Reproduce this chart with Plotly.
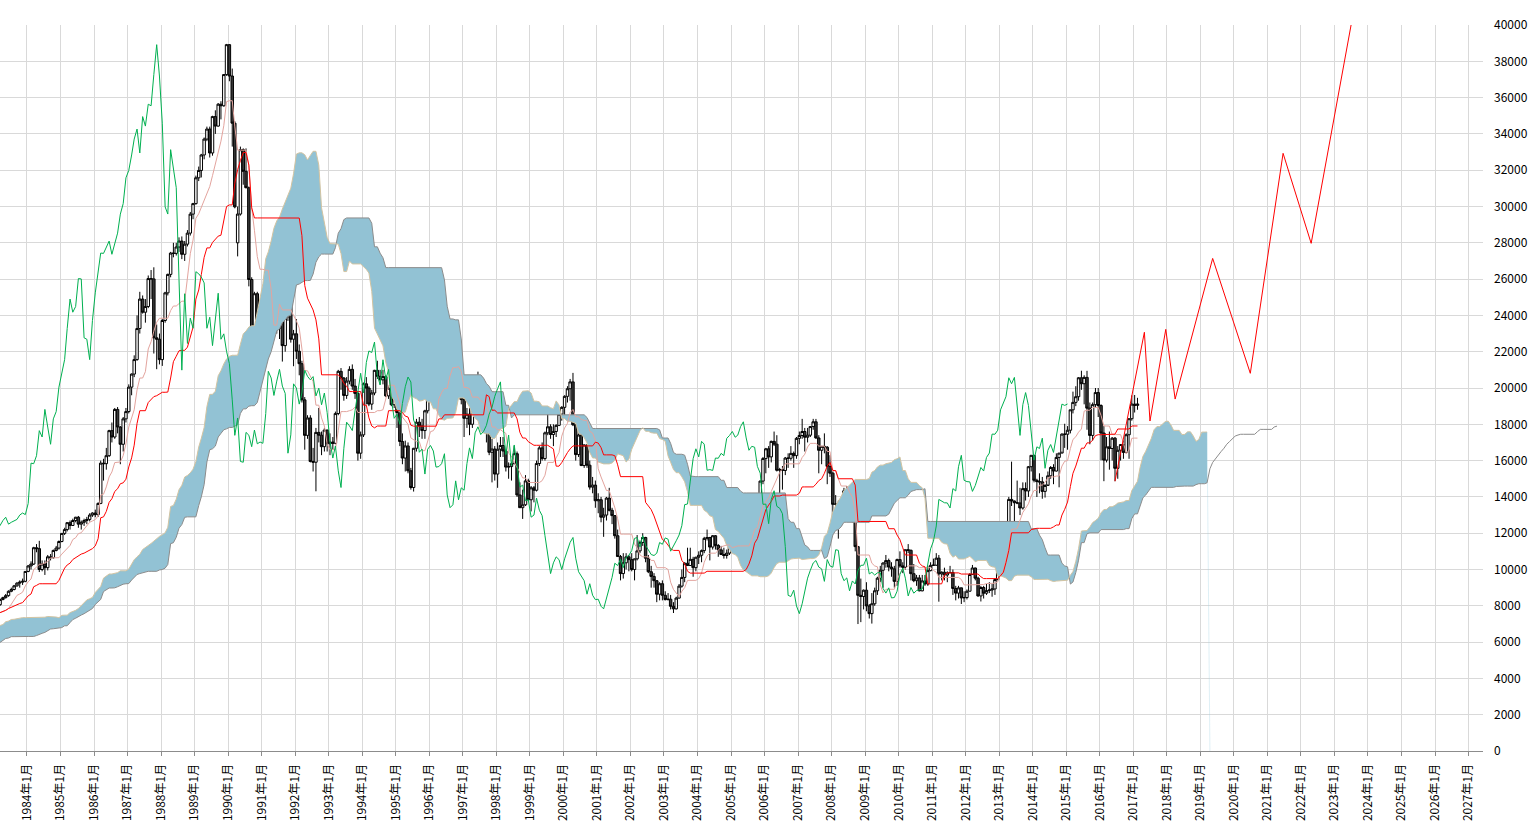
import pandas as pd
import plotly.graph_objects as go

SHIFT = 25  # ichimoku displacement (26 incl. current bar)

# ---- monthly highs / lows before the visible window (Oct 1976 - Dec 1982), used for the indicators
pre_start = "1976-10"
pre_high = [
    4600, 4700, 4990,
    5100, 5150, 5220, 5200, 5150, 5180, 5200, 5250, 5290, 5250, 5080, 4900,
    5050, 5100, 5300, 5500, 5560, 5600, 5680, 5650, 5750, 5900, 5900, 6020,
    6250, 6250, 6200, 6200, 6150, 6250, 6300, 6400, 6550, 6550, 6480, 6600,
    6750, 6720, 6600, 6600, 6750, 6900, 7000, 7080, 7150, 7300, 7350, 7250,
    7350, 7500, 7550, 7800, 7850, 8000, 8000, 8020, 7750, 7650, 7700, 7750,
    7900, 7800, 7500, 7400, 7600, 7550, 7400, 7250, 7150, 7350, 7650, 8100,
]
pre_low = [
    4420, 4450, 4600,
    4900, 4980, 5000, 4980, 4970, 5020, 5050, 5100, 5150, 5000, 4600, 4700,
    4850, 4950, 5050, 5250, 5420, 5450, 5520, 5480, 5500, 5700, 5680, 5750,
    5980, 6050, 6050, 6000, 5980, 6030, 6150, 6200, 6330, 6350, 6250, 6320,
    6520, 6500, 6380, 6400, 6520, 6680, 6800, 6900, 6950, 7020, 7100, 7000,
    7100, 7250, 7350, 7450, 7600, 7700, 7700, 7650, 7100, 7250, 7450, 7500,
    7600, 7400, 7050, 7100, 7300, 7250, 7150, 6900, 6880, 6850, 7200, 7550,
]

# ---- monthly candles, Jan 1983 - Feb 2017
start = "1983-01"
open_ = [
    8016, 7990, 8060, 8350, 8450, 8560, 8800, 8900, 9100, 9250, 9300, 9350,
    9893, 10196, 10300, 11200, 11150, 10000, 10300, 10100, 10700, 10650, 11050, 11180,
    11542, 11990, 12200, 12580, 12426, 12700, 12880, 12500, 12600, 12700, 12760, 13000,
    13113, 13024, 13640, 15860, 15830, 16270, 17650, 17300, 18820, 17850, 16900, 18300,
    18701, 20048, 20767, 21566, 23275, 24900, 24176, 24488, 26029, 26010, 22765, 22686,
    21564, 23719, 25242, 26260, 27434, 27417, 27769, 28095, 27367, 27924, 28532, 29579,
    30159, 31581, 31986, 32839, 33714, 34267, 32949, 34954, 34431, 35637, 35549, 37269,
    38916, 37189, 34592, 28000, 29584, 33131, 31940, 31036, 25978, 20984, 25194, 22455,
    23849, 23293, 26409, 26292, 26111, 25790, 23291, 23900, 22335, 23916, 25222, 22687,
    22984, 22023, 21339, 19346, 17391, 18348, 15952, 15910, 17555, 17399, 16767, 17684,
    16925, 17023, 16953, 18591, 20919, 20552, 19590, 20380, 21027, 20106, 19703, 16408,
    17417, 20229, 19997, 19112, 19725, 20974, 20644, 20449, 20629, 19564, 19990, 19076,
    19723, 18650, 17053, 16140, 16807, 15437, 14517, 16678, 18117, 17913, 17655, 18744,
    19868, 20813, 19734, 21407, 22041, 21956, 22531, 20693, 20167, 21556, 20467, 21020,
    19361, 18330, 18557, 18003, 19151, 20069, 20605, 20331, 18229, 17888, 16459, 16636,
    15259, 16628, 16832, 16527, 15641, 15671, 15830, 16379, 14108, 13406, 13565, 14883,
    13842, 14500, 14368, 15837, 16701, 16112, 17530, 17862, 17437, 17605, 17942, 18558,
    18934, 19540, 19960, 20337, 17974, 16332, 17411, 15727, 16861, 15747, 14539, 14649,
    13786, 13844, 12884, 12999, 13934, 13262, 12969, 11861, 10714, 9775, 10367, 10697,
    10543, 9998, 10588, 11025, 11493, 11764, 10622, 9877, 9619, 9383, 8640, 9216,
    8579, 8340, 8363, 7973, 7831, 8425, 9083, 9563, 10344, 10219, 10560, 10101,
    10677, 10784, 11041, 11715, 11762, 11236, 11859, 11326, 11082, 10824, 10771, 10899,
    11489, 11388, 11741, 11669, 11009, 11277, 11584, 11900, 12414, 13574, 13607, 14872,
    16111, 16650, 16205, 17060, 16906, 15467, 15505, 15457, 16141, 16128, 16399, 16274,
    17226, 17383, 17604, 17288, 17400, 17875, 18138, 17249, 16569, 16786, 16737, 15680,
    15308, 13592, 13603, 12526, 13850, 14339, 13481, 13377, 13073, 11260, 8577, 8512,
    8860, 7994, 7568, 8110, 8828, 9523, 9958, 10357, 10493, 10133, 10035, 9346,
    10546, 10198, 10126, 11090, 11057, 9769, 9383, 9537, 8824, 9369, 9202, 9937,
    10229, 10237, 10624, 9755, 9850, 9694, 9816, 9833, 8955, 8700, 8988, 8435,
    8455, 8803, 9723, 10083, 9521, 8543, 9007, 8695, 8840, 8870, 8928, 9446,
    10395, 11139, 11559, 12398, 13861, 13775, 13677, 13668, 13389, 14456, 14328, 15662,
    16291, 14915, 14841, 14828, 14304, 14632, 15162, 15621, 15425, 16174, 16414, 17460,
    17451, 17674, 18798, 19207, 19520, 20563, 20236, 20585, 18890, 17388, 19083, 19747,
    19034, 17518, 16027, 16759, 16666, 17235, 15576, 16569, 16887, 16450, 17425, 18308,
    19114, 19041,
]
high = [
    8120, 8100, 8400, 8500, 8650, 8850, 9000, 9150, 9300, 9400, 9500, 9900,
    10250, 10450, 11250, 11400, 11580, 10500, 10500, 10800, 10850, 11100, 11300, 11600,
    11990, 12300, 12600, 12700, 12800, 12900, 12950, 12700, 12800, 12900, 13100, 13150,
    13300, 13700, 16000, 16100, 16700, 17700, 18100, 18900, 18950, 17900, 18400, 18900,
    20200, 20800, 21800, 24000, 25300, 25100, 24900, 26200, 26500, 26650, 23500, 23000,
    23800, 25300, 26300, 27500, 28000, 28000, 28300, 28350, 28100, 28700, 29700, 30200,
    31700, 32200, 32900, 33800, 34400, 34400, 35000, 35300, 35700, 35800, 37300, 38957,
    38950, 37600, 34700, 30000, 33300, 33200, 33200, 31100, 26100, 25300, 25300, 24000,
    24100, 26500, 27146, 26800, 26200, 25900, 24200, 24000, 24000, 25300, 25300, 23200,
    23800, 22400, 21500, 19500, 18500, 18500, 16700, 17800, 18900, 17600, 17800, 17700,
    17500, 17300, 18700, 21000, 21100, 20600, 20600, 21200, 21300, 20500, 19800, 17600,
    20300, 20600, 20100, 19900, 21000, 21500, 21000, 21000, 20700, 20100, 20000, 19800,
    19800, 18800, 17500, 17100, 17000, 15600, 16700, 18300, 18400, 18300, 18800, 19900,
    20900, 21000, 21500, 22300, 22300, 22750, 22600, 21300, 21700, 21700, 21300, 21100,
    19500, 18900, 18900, 19200, 20200, 20900, 20700, 20500, 18300, 18000, 17200, 16800,
    17000, 17300, 17300, 16600, 15900, 15900, 16800, 16500, 14800, 14400, 15200, 15000,
    14600, 14600, 16000, 16800, 17000, 17600, 18600, 18000, 18000, 18000, 18600, 19000,
    19600, 20100, 20500, 20833, 18000, 17500, 17600, 16900, 16900, 16000, 15100, 14900,
    14200, 14000, 13400, 14000, 14500, 13400, 13000, 12200, 10800, 10900, 10900, 10800,
    10900, 10600, 11900, 11600, 12000, 11800, 10800, 10200, 9800, 9400, 9300, 9400,
    8800, 8700, 8600, 8200, 8500, 9200, 10000, 10400, 11200, 11200, 10700, 10700,
    11000, 11100, 11800, 12200, 11800, 11900, 11900, 11400, 11300, 11200, 11100, 11500,
    11600, 11800, 12000, 11900, 11300, 11600, 11900, 12500, 13600, 13800, 14900, 16200,
    16700, 16800, 17100, 17600, 17400, 15600, 15700, 16200, 16400, 16800, 16500, 17300,
    17600, 18300, 17800, 17800, 17900, 18300, 18297, 17400, 16800, 17500, 16800, 16300,
    15400, 14100, 13800, 13900, 14500, 14600, 13700, 13400, 13300, 11300, 9500, 8900,
    9300, 8100, 8700, 9000, 9600, 10200, 10400, 10800, 10600, 10400, 10200, 10600,
    11000, 10400, 11100, 11400, 11100, 10300, 9700, 9700, 9700, 9700, 10200, 10400,
    10600, 10900, 10800, 9900, 10100, 9900, 10200, 10000, 9100, 9100, 9000, 8800,
    8900, 9800, 10250, 10100, 9600, 9100, 9100, 9200, 9300, 9200, 9500, 10400,
    11200, 11600, 12650, 14000, 15942, 13800, 14900, 14500, 14800, 14800, 15700, 16300,
    16300, 15000, 15300, 15100, 14700, 15400, 15700, 15800, 16400, 16400, 17500, 18030,
    17900, 18800, 19800, 20100, 20600, 20952, 20700, 20946, 19200, 19200, 20000, 20000,
    19100, 17900, 17300, 17600, 17300, 17300, 16800, 16900, 17100, 17500, 18300, 19592,
    19615, 19459,
]
low = [
    7850, 7900, 8000, 8300, 8400, 8500, 8750, 8850, 9050, 9000, 9150, 9300,
    9850, 10000, 10250, 10950, 9860, 9900, 9700, 9950, 10500, 10600, 11000, 11100,
    11500, 11900, 12100, 12200, 12400, 12600, 12300, 12200, 12400, 12500, 12650, 12900,
    12880, 12900, 13600, 14900, 15500, 16200, 17000, 17200, 17500, 15800, 16500, 18100,
    18600, 19600, 20600, 21500, 23000, 24100, 23600, 24400, 24900, 21900, 21036, 21300,
    21217, 23600, 25100, 26100, 27200, 27300, 27500, 27100, 27000, 27800, 28400, 29300,
    30100, 31400, 31600, 32600, 33600, 32700, 32800, 34000, 34400, 34800, 35500, 37200,
    36900, 33300, 29900, 27251, 29500, 31200, 31000, 25600, 20900, 19781, 22200, 22300,
    22100, 23200, 25700, 25900, 25300, 23000, 22700, 21456, 22000, 23700, 22500, 21200,
    21600, 20700, 19200, 16600, 17200, 15900, 15400, 14309, 17000, 16300, 16500, 16500,
    16300, 16600, 16900, 18500, 19900, 19300, 19400, 20200, 19900, 19400, 16000, 16100,
    17300, 19100, 19000, 18800, 19600, 20500, 20200, 20200, 19500, 19400, 19000, 18900,
    17800, 16800, 15800, 15400, 15300, 14400, 14295, 16500, 17300, 17200, 17200, 18600,
    19700, 19500, 19600, 21000, 21500, 21800, 20600, 20100, 19900, 20400, 20300, 19100,
    17300, 17800, 17400, 17800, 19100, 20000, 19700, 18200, 17000, 16300, 14800, 14900,
    14500, 16200, 16200, 15400, 15000, 14900, 15800, 14000, 13400, 12787, 13500, 13800,
    13200, 13700, 14300, 15700, 16000, 16000, 17400, 17200, 16800, 17300, 17900, 18200,
    18500, 19200, 19300, 17900, 16000, 16200, 15700, 15600, 15600, 14400, 14200, 13400,
    13100, 12600, 11800, 12700, 13200, 12500, 11700, 10700, 9400, 9500, 10000, 9900,
    9900, 9400, 10500, 10900, 11300, 10400, 9800, 9000, 9000, 8200, 8300, 8300,
    8300, 8300, 7800, 7603, 7800, 8400, 9000, 9300, 10200, 10200, 9600, 9900,
    10300, 10400, 10900, 11600, 10500, 11100, 11100, 10700, 10800, 10600, 10600, 10800,
    11200, 11300, 11600, 10800, 10800, 11100, 11500, 11700, 12300, 13100, 13500, 14700,
    15300, 15600, 15900, 16800, 15400, 14045, 14400, 15200, 15600, 16000, 15600, 16100,
    16900, 17200, 16500, 17000, 17300, 17700, 17200, 15300, 15800, 16400, 14700, 15100,
    12600, 12700, 11700, 12400, 13600, 13300, 12700, 12600, 11000, 6994, 7100, 7800,
    7700, 7300, 7021, 8000, 8600, 9300, 9000, 10100, 9900, 9600, 9000, 9100,
    10100, 9800, 10000, 10900, 9400, 9300, 9100, 8800, 8800, 9100, 9100, 9900,
    10200, 10200, 8227, 9400, 9400, 9300, 9800, 8600, 8300, 8400, 8100, 8200,
    8350, 8800, 9700, 9400, 8500, 8238, 8400, 8600, 8700, 8500, 8600, 9400,
    10350, 10800, 11300, 11800, 13500, 12415, 13600, 13000, 13300, 13800, 14000, 15400,
    14800, 13995, 14200, 13900, 13964, 14700, 15000, 14700, 15400, 14529, 16500, 16700,
    16600, 17500, 18600, 19000, 19300, 19900, 19100, 17700, 16901, 17100, 18900, 18400,
    16017, 14865, 15900, 15500, 16000, 14864, 15000, 16000, 16100, 16400, 16100, 18200,
    18650, 18800,
]
close = [
    7990, 8060, 8350, 8450, 8560, 8800, 8900, 9100, 9250, 9300, 9350, 9893,
    10196, 10300, 11200, 11150, 10000, 10300, 10100, 10700, 10650, 11050, 11180, 11542,
    11990, 12200, 12580, 12426, 12700, 12880, 12500, 12600, 12700, 12760, 13000, 13113,
    13024, 13640, 15860, 15830, 16270, 17650, 17300, 18820, 17850, 16900, 18300, 18701,
    20048, 20767, 21566, 23275, 24900, 24176, 24488, 26029, 26010, 22765, 22686, 21564,
    23719, 25242, 26260, 27434, 27417, 27769, 28095, 27367, 27924, 28532, 29579, 30159,
    31581, 31986, 32839, 33714, 34267, 32949, 34954, 34431, 35637, 35549, 37269, 38916,
    37189, 34592, 29980, 29584, 33131, 31940, 31036, 25978, 20984, 25194, 22455, 23849,
    23293, 26409, 26292, 26111, 25790, 23291, 23900, 22335, 23916, 25222, 22687, 22984,
    22023, 21339, 19346, 17391, 18348, 15952, 15910, 17555, 17399, 16767, 17684, 16925,
    17023, 16953, 18591, 20919, 20552, 19590, 20380, 21027, 20106, 19703, 16408, 17417,
    20229, 19997, 19112, 19725, 20974, 20644, 20449, 20629, 19564, 19990, 19076, 19723,
    18650, 17053, 16140, 16807, 15437, 14517, 16678, 18117, 17913, 17655, 18744, 19868,
    20813, 19734, 21407, 22041, 21956, 22531, 20693, 20167, 21556, 20467, 21020, 19361,
    18330, 18557, 18003, 19151, 20069, 20605, 20331, 18229, 17888, 16459, 16636, 15259,
    16628, 16832, 16527, 15641, 15671, 15830, 16379, 14108, 13406, 13565, 14883, 13842,
    14500, 14368, 15837, 16701, 16112, 17530, 17862, 17437, 17605, 17942, 18558, 18934,
    19540, 19960, 20337, 17974, 16332, 17411, 15727, 16861, 15747, 14539, 14649, 13786,
    13844, 12884, 12999, 13934, 13262, 12969, 11861, 10714, 9775, 10367, 10697, 10543,
    9998, 10588, 11025, 11493, 11764, 10622, 9877, 9619, 9383, 8640, 9216, 8579,
    8340, 8363, 7973, 7831, 8425, 9083, 9563, 10344, 10219, 10560, 10101, 10677,
    10784, 11041, 11715, 11762, 11236, 11859, 11326, 11082, 10824, 10771, 10899, 11489,
    11388, 11741, 11669, 11009, 11277, 11584, 11900, 12414, 13574, 13607, 14872, 16111,
    16650, 16205, 17060, 16906, 15467, 15505, 15457, 16141, 16128, 16399, 16274, 17226,
    17383, 17604, 17288, 17400, 17875, 18138, 17249, 16569, 16786, 16737, 15680, 15308,
    13592, 13603, 12526, 13850, 14339, 13481, 13377, 13073, 11260, 8577, 8512, 8860,
    7994, 7568, 8110, 8828, 9523, 9958, 10357, 10493, 10133, 10035, 9346, 10546,
    10198, 10126, 11090, 11057, 9769, 9383, 9537, 8824, 9369, 9202, 9937, 10229,
    10237, 10624, 9755, 9850, 9694, 9816, 9833, 8955, 8700, 8988, 8435, 8455,
    8803, 9723, 10083, 9521, 8543, 9007, 8695, 8840, 8870, 8928, 9446, 10395,
    11139, 11559, 12398, 13861, 13775, 13677, 13668, 13389, 14456, 14328, 15662, 16291,
    14915, 14841, 14828, 14304, 14632, 15162, 15621, 15425, 16174, 16414, 17460, 17451,
    17674, 18798, 19207, 19520, 20563, 20236, 20585, 18890, 17388, 19083, 19747, 19034,
    17518, 16027, 16759, 16666, 17235, 15576, 16569, 16887, 16450, 17425, 18308, 19114,
    19041, 19119,
]

# ---- projection drawn on the chart (red zig-zag) and the extended grey span
zz_dates = ["2016-06-15", "2017-05-01", "2017-07-01", "2017-12-20", "2018-04-01",
            "2019-05-15", "2020-06-28", "2021-06-20", "2022-04-22", "2023-07-01"]
zz_values = [14864, 23070, 18180, 23230, 19390, 27140, 20810, 32930, 27970, 40000]

ext_start = "2019-04"
ext_values = [15550, 15900, 16120, 16350, 16500, 16680, 16900, 17050, 17200, 17350,
              17410, 17450, 17450, 17450, 17450, 17450, 17450, 17600, 17720, 17720,
              17720, 17720, 17720, 17850, 17900]

# ---------------------------------------------------------------------------
n_pre = len(pre_high)
n = len(close)
assert len(pre_low) == n_pre
assert len(open_) == n and len(high) == n and len(low) == n
N = n_pre + n

months = pd.period_range(pre_start, periods=N + SHIFT + 2, freq="M")
dates = months.to_timestamp() + pd.Timedelta(days=14)

H = pd.Series(pre_high + high, dtype=float)
L = pd.Series(pre_low + low, dtype=float)
tenkan = (H.rolling(9).max() + L.rolling(9).min()) / 2
kijun = (H.rolling(26).max() + L.rolling(26).min()) / 2
span_a = (tenkan + kijun) / 2
span_b = (H.rolling(52).max() + L.rolling(52).min()) / 2

k0 = 51
cloud_x = list(dates[k0 + SHIFT: N + SHIFT])
sa = list(span_a[k0:N].values)
sb = list(span_b[k0:N].values)

ext_dates = list(pd.period_range(ext_start, periods=len(ext_values), freq="M").to_timestamp()
                 + pd.Timedelta(days=14))

FILL = "#92c2d4"
fig = go.Figure()

# cloud
fig.add_trace(go.Scatter(x=cloud_x, y=sb, mode="lines",
                         line=dict(color="#8c8c8c", width=1), hoverinfo="skip"))
fig.add_trace(go.Scatter(x=cloud_x, y=sa, mode="lines", fill="tonexty", fillcolor=FILL,
                         line=dict(color="#d3c4a2", width=1), hoverinfo="skip"))
# faint drop line and grey continuation
fig.add_trace(go.Scatter(x=[cloud_x[-1], dates[N + SHIFT]], y=[sa[-1], 0], mode="lines",
                         line=dict(color="rgba(160,210,225,0.35)", width=1), hoverinfo="skip"))
fig.add_trace(go.Scatter(x=[cloud_x[-1]] + ext_dates, y=[sb[-1]] + ext_values, mode="lines",
                         line=dict(color="#8c8c8c", width=1), hoverinfo="skip"))

# candles
cd = dates[n_pre:N]
fig.add_trace(go.Candlestick(
    x=cd, open=open_, high=high, low=low, close=close,
    increasing=dict(line=dict(color="#000000", width=1), fillcolor="#ffffff"),
    decreasing=dict(line=dict(color="#000000", width=1), fillcolor="#383838"),
    hoverinfo="skip"))

# lines
fig.add_trace(go.Scatter(x=dates[:N], y=tenkan.values, mode="lines",
                         line=dict(color="#e3a49e", width=1), hoverinfo="skip"))
fig.add_trace(go.Scatter(x=dates[:N], y=kijun.values, mode="lines",
                         line=dict(color="#ff0000", width=1), hoverinfo="skip"))
fig.add_trace(go.Scatter(x=dates[n_pre - SHIFT: N - SHIFT], y=close, mode="lines",
                         line=dict(color="#00b050", width=1), hoverinfo="skip"))
fig.add_trace(go.Scatter(x=zz_dates, y=zz_values, mode="lines",
                         line=dict(color="#ff0000", width=1), hoverinfo="skip"))

fig.update_layout(
    width=1533, height=834,
    margin=dict(l=0, r=50, t=25, b=83),
    paper_bgcolor="white", plot_bgcolor="white",
    showlegend=False,
    boxmode="overlay", boxgap=0.05, boxgroupgap=0,
    font=dict(family="Noto Sans CJK JP, sans-serif", color="#000000"),
    xaxis=dict(type="date", range=["1983-03-14", "2027-06-07"],
               rangeslider=dict(visible=False),
               tick0="1984-01-01", dtick="M12", tickformat="%Y年%-m月",
               tickangle=-90, tickfont=dict(size=12, color="#000000"),
               ticklabelstandoff=3,
               showgrid=True, gridcolor="#d9d9d9", gridwidth=1,
               showline=True, linecolor="#8c8c8c", linewidth=1,
               ticks="outside", ticklen=4, tickcolor="#8c8c8c",
               zeroline=False, fixedrange=True),
    yaxis=dict(range=[0, 40000], side="right", tick0=0, dtick=2000, tickformat="d",
               tickfont=dict(size=12, color="#000000"),
               showgrid=True, gridcolor="#d9d9d9", gridwidth=1,
               showline=False, zeroline=False, ticks="",
               ticklabelstandoff=10, fixedrange=True),
)

fig.write_html("out.html", include_plotlyjs=True, full_html=True,
               config={"displayModeBar": False},
               post_script="document.body.style.margin='0px';document.body.style.overflow='hidden';")
